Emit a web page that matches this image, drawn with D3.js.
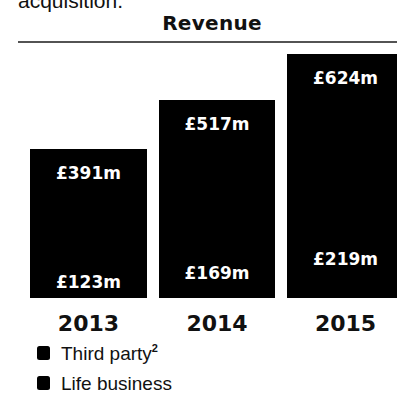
<!DOCTYPE html>
<html>
<head>
<meta charset="utf-8">
<script src="https://cdn.jsdelivr.net/npm/d3@7/dist/d3.min.js"></script>
<style>
  html, body { margin: 0; padding: 0; background: #fff; }
  svg { display: block; }
</style>
</head>
<body>
<svg id="chart" width="397" height="396"></svg>
<script>
// Revenue by year, split into life business (bottom) and third party (top)
const years = ["2013", "2014", "2015"];
const lifeBusiness = [123, 169, 219];
const thirdParty = [391, 517, 624];
const seriesNames = ["Third party", "Life business"];
const seriesColors = ["#000000", "#000000"];

const svg = d3.select("#chart");

// Tail of the preceding paragraph
svg.append("text")
  .attr("x", 18).attr("y", 8)
  .attr("font-family", "Liberation Sans, Arial, sans-serif")
  .attr("font-size", 21)
  .attr("fill", "#111")
  .text("acquisition.");

// Title and rule
svg.append("text")
  .attr("x", 212).attr("y", 30)
  .attr("text-anchor", "middle")
  .attr("font-family", "DejaVu Sans, sans-serif")
  .attr("font-weight", "bold")
  .attr("font-size", 20)
  .attr("letter-spacing", 0.3)
  .attr("fill", "#111")
  .text("Revenue");

svg.append("line")
  .attr("x1", 18).attr("x2", 397)
  .attr("y1", 42).attr("y2", 42)
  .attr("stroke", "#1a1a1a")
  .attr("stroke-width", 1.3);

const rows = years.map((y, i) => ({ year: y, life: lifeBusiness[i], third: thirdParty[i] }));
const stack = d3.stack().keys(["life", "third"])(rows);

const x = d3.scaleBand().domain(years).range([30, 404]).paddingInner(0.09);
const yScale = d3.scaleLinear().domain([0, 900]).range([298, 37.6]);

const colorByKey = { third: seriesColors[0], life: seriesColors[1] };

svg.append("g")
  .attr("shape-rendering", "crispEdges")
  .selectAll("g")
  .data(stack)
  .join("g")
  .attr("fill", d => colorByKey[d.key])
  .selectAll("rect")
  .data(d => d)
  .join("rect")
  .attr("x", d => x(d.data.year))
  .attr("width", x.bandwidth())
  .attr("y", d => Math.round(yScale(d[1])))
  .attr("height", d => Math.round(yScale(d[0])) - Math.round(yScale(d[1])));

// Value labels inside each segment
const labelGroup = svg.append("g")
  .attr("font-family", "DejaVu Sans, sans-serif")
  .attr("font-weight", "bold")
  .attr("font-size", 17)
  .attr("fill", "#fff")
  .attr("text-anchor", "middle");

stack.forEach(layer => {
  layer.forEach(d => {
    const top = yScale(d[1]);
    const bottom = yScale(d[0]);
    const baseline = Math.min(top + 30, bottom - 10);
    labelGroup.append("text")
      .attr("x", x(d.data.year) + x.bandwidth() / 2)
      .attr("y", baseline)
      .text("£" + d.data[layer.key] + "m");
  });
});

// Year axis
const axis = svg.append("g")
  .attr("transform", "translate(0,331)")
  .call(d3.axisBottom(x).tickSize(0).tickPadding(0));
axis.select(".domain").remove();
axis.selectAll("text")
  .attr("y", 0)
  .attr("dy", 0)
  .attr("font-family", "DejaVu Sans, sans-serif")
  .attr("font-weight", "bold")
  .attr("font-size", 22)
  .attr("fill", "#111");

// Legend
const legend = svg.append("g").attr("transform", "translate(37,0)");
const legendRows = [
  { name: seriesNames[0], sup: "2", color: seriesColors[0], y: 360 },
  { name: seriesNames[1], sup: null, color: seriesColors[1], y: 390 }
];
legendRows.forEach(r => {
  legend.append("rect")
    .attr("x", 0).attr("y", r.y - 14)
    .attr("width", 13).attr("height", 14)
    .attr("rx", 2.5)
    .attr("fill", r.color);
  const t = legend.append("text")
    .attr("x", 24).attr("y", r.y)
    .attr("font-family", "Liberation Sans, Arial, sans-serif")
    .attr("font-size", 19)
    .attr("fill", "#111")
    .text(r.name);
  if (r.sup) {
    t.append("tspan")
      .attr("font-size", 11)
      .attr("font-weight", "bold")
      .attr("dy", -8)
      .text(r.sup);
  }
});
</script>
</body>
</html>
